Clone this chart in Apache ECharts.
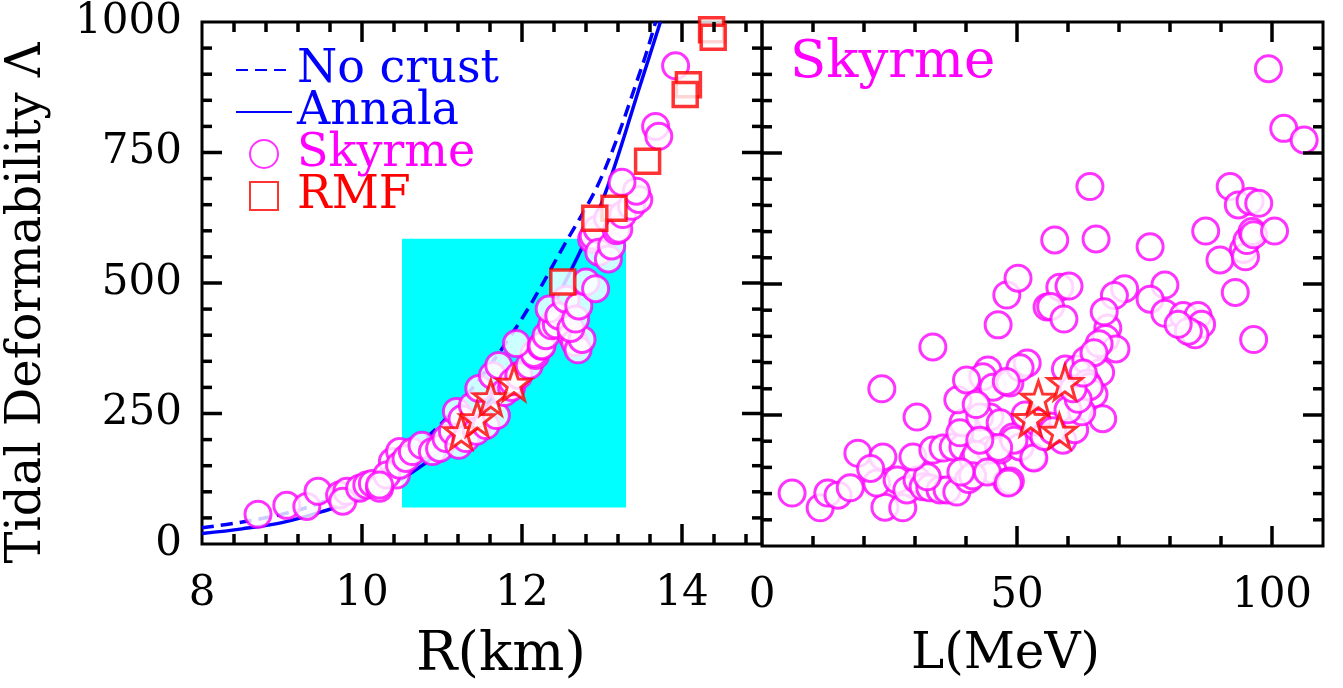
<!DOCTYPE html>
<html><head><meta charset="utf-8">
<script src="https://cdn.jsdelivr.net/npm/echarts@6/dist/echarts.min.js"></script>
<style>html,body{margin:0;padding:0;background:#fff}#c{width:1343px;height:688px}</style>
</head><body><div id="c"></div>
<script>
// ---------- data ----------
const rAxis = {min: 8, max: 15, major: 2, minor: 0.4};
const lAxis = {min: 0, max: 110, major: 50, minor: 10};
const lamAxis = {min: 0, max: 1000, major: 250, minor: 50};

const boxR = [10.5, 13.3];
const boxLam = [70, 585];

const noCrustR   = [8.0, 8.5, 9.0, 9.5, 10.0, 10.5, 11.0, 11.5, 12.0, 12.5, 13.0, 13.5, 13.67];
const noCrustLam = [31, 42, 57, 80, 115, 165, 232, 322, 432, 565, 705, 915, 1000];
const annalaR    = [8.0, 8.5, 9.0, 9.5, 10.0, 10.5, 11.0, 11.5, 12.0, 12.5, 13.0, 13.5, 13.73];
const annalaLam  = [20, 29, 41, 62, 88, 125, 180, 258, 350, 490, 655, 890, 1000];

const skyrmeRLam = [
 [8.70,57],[9.06,74],[9.31,72],[9.45,101],[9.72,94],[9.81,101],[9.76,82],[9.97,107],[10.06,113],[10.13,116],
 [10.22,107],[10.38,158],[10.47,177],[10.43,132],[10.31,132],[10.22,113],[10.47,151],[10.55,164],[10.63,177],[10.75,189],
 [10.88,177],[10.97,183],[11.05,202],[11.13,216],[11.18,254],[11.25,240],[11.38,265],[11.46,298],[11.21,189],[11.30,202],
 [11.43,216],[11.55,227],[11.68,246],[11.63,323],[11.71,342],[11.78,290],[11.87,300],[11.88,311],[11.96,323],[12.09,342],
 [12.17,361],[12.15,365],[11.93,384],[12.24,379],[12.25,380],[12.30,399],[12.37,418],[12.43,420],[12.34,450],[12.46,437],
 [12.55,469],[12.62,399],[12.66,386],[12.70,372],[12.75,392],[12.61,413],[12.67,431],[12.71,456],[12.80,502],[12.92,489],
 [12.87,584],[12.89,590],[12.94,603],[12.96,559],[13.08,546],[13.12,571],[13.07,624],[13.18,600],[13.21,603],[13.26,631],
 [13.37,647],[13.46,660],[13.43,676],[13.25,693],[13.67,800],[13.71,781],[13.92,916]
];
const rmfRLam = [[14.37,985],[14.39,971],[14.08,880],[14.04,861],[13.57,733],[13.15,643],[12.91,624],[12.51,502]];
const starsRLam = [[11.24,215],[11.44,240],[11.61,280],[11.90,308]];

const skyrmeLLam = [
 [5.9,101],[11.4,73],[12.9,101],[14.9,97],[17.3,111],[18.8,177],[23.7,170],[23.5,300],[30.4,246],[33.5,380],
 [24.1,74],[27.6,73],[22.5,120],[26.5,126],[28.4,107],[30.4,126],[31.6,113],[32.9,111],[34.9,107],[36.3,107],
 [38.2,103],[32.4,132],[29.6,170],[21.3,148],[33.5,183],[35.5,187],[37.5,189],[39.4,189],[39.4,235],[38.8,216],
 [38.4,279],[41.4,164],[45.3,145],[48.0,122],[44.7,183],[46.7,183],[44.7,246],[42.7,246],[46.7,235],[49.2,208],
 [53.1,170],[50.6,189],[44.3,336],[43.3,323],[45.3,303],[48.6,311],[52.0,349],[50.6,340],[46.3,422],[48.0,479],
 [50.2,511],[55.9,456],[58.4,494],[57.4,584],[59.5,338],[61.8,338],[63.5,355],[66.4,331],[63.8,311],[65.1,290],
 [66.8,243],[56.5,229],[59.0,202],[61.3,222],[62.7,256],[64.2,304],[53.3,168],[48.7,124],[64.3,686],[65.5,586],
 [76.1,571],[67.8,416],[67.4,396],[69.4,376],[66.1,386],[65.1,369],[71.1,491],[69.1,478],[67.1,447],[79.0,498],
 [76.1,471],[79.0,444],[82.6,440],[85.5,440],[86.2,423],[84.9,403],[83.6,410],[81.6,423],[87.0,601],[89.8,546],
 [91.8,686],[93.4,651],[95.7,658],[97.4,654],[94.4,566],[94.8,552],[95.1,583],[96.1,600],[96.4,594],[100.5,601],
 [92.8,484],[96.4,394],[99.3,911],[102.3,797],[106.3,775],[56.6,457],[59.2,433],[60.2,496],[47.9,314],[40.1,317],
 [42.0,270],[51.6,250],[53.9,236],[49.4,202],[42.0,175],[46.4,188],[42.7,202],[40.5,127],[41.3,134],[39.0,141],
 [44.2,141],[48.3,120],[55.3,209],[57.0,220],[60.0,260],[62.0,280],[61.0,300],[63.0,330]
];
const starsLLam = [[58.3,219],[52.7,243],[54.2,282],[59.4,312]];

// ---------- styles ----------
const FONT = 'DejaVu Serif';
const MAGENTA = '#ff00ff', RED = '#ff0000', BLUE = '#0000ff', CYAN = '#00ffff';
const STAR = 'path://M50 0 L61.8 33.8 L97.6 34.5 L69 56.2 L79.4 90.5 L50 70 L20.6 90.5 L31 56.2 L2.4 34.5 L38.2 33.8 Z';
const SQUARE = 'path://M0 0 L10 0 L10 10 L0 10 Z';
const MAJOR_LEN = 20, MINOR_LEN = 10, TICK_W = 3.5;
const plain = v => String(v);

// tick positions along each axis (interior only; the ends coincide with the frame)
function tickList(ax) {
  const out = [];
  const n = Math.round((ax.max - ax.min) / ax.minor);
  for (let k = 1; k < n; k++) {
    const v = +(ax.min + k * ax.minor).toFixed(6);
    const q = v / ax.major;
    out.push({value: v, len: Math.abs(q - Math.round(q)) < 1e-6 ? MAJOR_LEN : MINOR_LEN});
  }
  return out;
}
// frame ticks drawn as filled rectangles placed through the chart's own axis scales
function frameTicks(chart) {
  const els = [];
  const box = (x, y, w, h) => els.push({type: 'rect', z: 100, silent: true,
    shape: {x: Math.min(x, x + w), y: Math.min(y, y + h), width: Math.abs(w), height: Math.abs(h)},
    style: {fill: '#000'}});
  [[0, rAxis], [1, lAxis]].forEach(([g, ax]) => {
    const finder = {xAxisIndex: g, yAxisIndex: g};
    tickList(ax).forEach(t => {
      const b = chart.convertToPixel(finder, [t.value, lamAxis.min]);
      const tp = chart.convertToPixel(finder, [t.value, lamAxis.max]);
      box(b[0] - TICK_W / 2, b[1], TICK_W, -t.len);
      box(tp[0] - TICK_W / 2, tp[1], TICK_W, t.len);
    });
    tickList(lamAxis).forEach(t => {
      const l = chart.convertToPixel(finder, [ax.min, t.value]);
      const r = chart.convertToPixel(finder, [ax.max, t.value]);
      box(l[0], l[1] - TICK_W / 2, t.len, TICK_W);
      box(r[0], r[1] - TICK_W / 2, -t.len, TICK_W);
    });
  });
  return els;
}

function xAx(grid, ax, name, nameSize, namePad) {
  return {
    gridIndex: grid, type: 'value', min: ax.min, max: ax.max, interval: ax.major, position: 'bottom',
    axisLine: {show: false}, splitLine: {show: false}, axisTick: {show: false},
    axisLabel: {show: true, fontSize: 42, fontFamily: FONT, color: '#000', margin: 29, showMaxLabel: false, formatter: plain},
    name: name, nameLocation: 'middle', nameGap: 84,
    nameTextStyle: {fontSize: nameSize, fontFamily: FONT, color: '#000', padding: namePad}
  };
}
function yAx(grid, labels, name) {
  const a = {
    gridIndex: grid, type: 'value', min: lamAxis.min, max: lamAxis.max, interval: lamAxis.major, position: 'left',
    axisLine: {show: false}, splitLine: {show: false}, axisTick: {show: false},
    axisLabel: {show: labels, fontSize: 42, fontFamily: FONT, color: '#000', margin: 20, formatter: plain}
  };
  if (name) {
    a.name = name; a.nameLocation = 'middle'; a.nameGap = 150; a.nameRotate = 90;
    a.nameTextStyle = {fontSize: 48, fontFamily: FONT, color: '#000', padding: [0, 40, 0, 0]};
  }
  return a;
}

const circleStyle = {color: '#fff', borderColor: MAGENTA, borderWidth: 3};
const squareStyle = {color: '#fff', borderColor: RED, borderWidth: 3.5};
const starStyle = {color: '#fff', borderColor: RED, borderWidth: 3};
const noSymbol = {color: 'rgba(0,0,0,0)', borderColor: 'rgba(0,0,0,0)', opacity: 0};

const option = {
  animation: false,
  backgroundColor: '#fff',
  grid: [
    {left: 202, top: 22, width: 560, height: 524, show: true, borderColor: '#000', borderWidth: 3, backgroundColor: 'transparent'},
    {left: 762, top: 22, width: 561, height: 524, show: true, borderColor: '#000', borderWidth: 3, backgroundColor: 'transparent'}
  ],
  xAxis: [
    xAx(0, rAxis, 'R(km)', 55, [0, 0, 0, 38]),
    xAx(1, lAxis, 'L(MeV)', 50, [0, 74, 0, 0])
  ],
  yAxis: [
    yAx(0, true, 'Tidal Deformability Λ'),
    yAx(1, false)
  ],
  title: {
    text: 'Skyrme', left: 785, top: 32,
    textStyle: {color: MAGENTA, fontFamily: FONT, fontSize: 53, fontWeight: 'normal'}
  },
  legend: {
    orient: 'vertical', left: 230, top: 42, itemWidth: 56, itemHeight: 28, itemGap: -4,
    selectedMode: false,
    textStyle: {fontFamily: FONT, fontSize: 46},
    data: [
      {name: 'No crust', itemStyle: noSymbol, textStyle: {color: BLUE}},
      {name: 'Annala', itemStyle: noSymbol, textStyle: {color: BLUE}},
      {name: 'Skyrme', icon: 'circle', textStyle: {color: MAGENTA}},
      {name: 'RMF', icon: SQUARE, textStyle: {color: RED}}
    ]
  },
  series: [
    {
      name: 'box', type: 'scatter', xAxisIndex: 0, yAxisIndex: 0, data: [], z: 1, silent: true,
      markArea: {silent: true, itemStyle: {color: CYAN, borderWidth: 0},
        data: [[{coord: [boxR[0], boxLam[0]]}, {coord: [boxR[1], boxLam[1]]}]]}
    },
    {
      name: 'No crust', type: 'line', xAxisIndex: 0, yAxisIndex: 0, symbol: 'none', smooth: 0.35, z: 3,
      data: noCrustR.map((r, i) => [r, noCrustLam[i]]),
      lineStyle: {color: BLUE, width: 3.5, type: [12, 7]}, itemStyle: {color: BLUE}
    },
    {
      name: 'Annala', type: 'line', xAxisIndex: 0, yAxisIndex: 0, symbol: 'none', smooth: 0.35, z: 3,
      data: annalaR.map((r, i) => [r, annalaLam[i]]),
      lineStyle: {color: BLUE, width: 3.5, type: 'solid'}, itemStyle: {color: BLUE}
    },
    {
      name: 'Skyrme', type: 'scatter', xAxisIndex: 0, yAxisIndex: 0, symbol: 'circle', symbolSize: 26, z: 4,
      data: skyrmeRLam, itemStyle: circleStyle
    },
    {
      name: 'RMF', type: 'scatter', xAxisIndex: 0, yAxisIndex: 0, symbol: 'rect', symbolSize: 24, z: 5,
      data: rmfRLam, itemStyle: squareStyle
    },
    {
      name: 'stars', type: 'scatter', xAxisIndex: 0, yAxisIndex: 0, symbol: STAR, symbolSize: 34, z: 6,
      data: starsRLam, itemStyle: starStyle
    },
    {
      name: 'Skyrme', type: 'scatter', xAxisIndex: 1, yAxisIndex: 1, symbol: 'circle', symbolSize: 26, z: 4,
      data: skyrmeLLam, itemStyle: circleStyle
    },
    {
      name: 'stars', type: 'scatter', xAxisIndex: 1, yAxisIndex: 1, symbol: STAR, symbolSize: 34, z: 6,
      data: starsLLam, itemStyle: starStyle
    }
  ]
};
const chart = echarts.init(document.getElementById('c'), null, {renderer: 'canvas'});
chart.setOption(option);
chart.setOption({graphic: {elements: frameTicks(chart)}});
</script>
</body></html>
